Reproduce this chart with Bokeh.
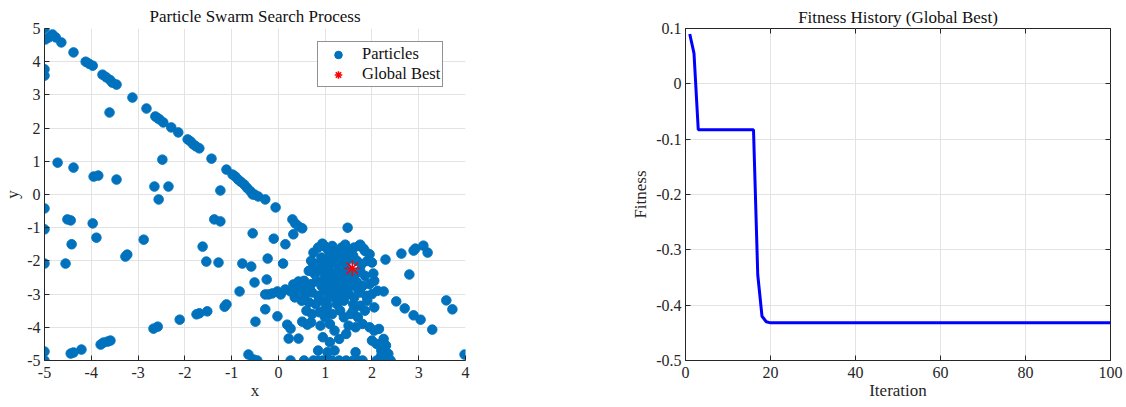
from bokeh.plotting import figure
from bokeh.layouts import row
from bokeh.models import FixedTicker, Legend, LegendItem, Range1d, LinearAxis
from bokeh.embed import file_html
from bokeh.resources import INLINE

FONT = "Liberation Serif"
AX = "#262626"
GRID = "#e3e3e3"
BLUE = "#0072BD"

# ---------------- data ----------------
particles_x = [
    -5, -4.98, -4.91, -4.83, -4.76, -4.64, -5, -5, -4.38, -4.12, -4.05, -3.97,
    -3.76, -3.68, -3.6, -3.55, -3.46, -3.61, -3.12, -2.82, -2.63, -2.58, -2.54,
    -2.46, -2.29, -2.14, -1.94, -1.88, -1.82, -1.76, -1.69, -1.43, -1.11, -0.98,
    -0.92, -0.86, -0.8, -0.73, -0.67, -0.6, -0.55, -0.51, -0.43, -0.28, -0.06,
    0.3, 0.36, 0.43, 0.51,
    -4.72, -4.38, -3.95, -3.85, -3.46, -2.48, -2.65, -2.35, -2.56, -1.24,
    -5, -4.51, -4.44, -3.97, -5, -3.89, -4.42, -2.88, -3.27, -3.23, -1.62, -1.37, -1.24,
    -5, -4.55, -1.54, -1.28,
    -2.67, -2.58, -2.11, -1.75, -1.69, -1.52,
    -3.8, -3.74, -3.65, -3.59, -4.44, -4.38, -4.21, -5, -5,
    -0.55, -0.1, 0.32, 0.15, -0.77, -0.58, -0.23, 0.1, -0.25, -0.51, -0.83, -1.11, -1.15,
    -0.28, -0.21, -0.13, -0.02, 0.05, 0.15, 0.26, 0.32, 0.43, 0.51, 0.58,
    -0.28, -0.02, -0.49, 0.19, 0.26, 0.22, 0.43, 0.51, 0.62,
    -0.64, -0.53, -0.45,
    0.26, 0.55, 0.75, 0.85, 0.95, 1.05, 1.15, 1.3, 1.45, 1.6, 1.7, 1.8, 2.1, 2.3, 2.4,
    2.29, 2.63, 2.89, 2.93, 3.1, 3.19, 2.8, 2.25, 2.52, 2.7, 2.89, 3.04, 3.29, 3.59,
    3.72, 3.98, 1.48, 2.03,
    0.94, 1.0, 1.43, 1.75, 1.82,
    0.75, 0.85, 0.95, 1.05, 1.15, 1.25, 1.35, 1.5, 1.62, 1.72, 1.85, 1.95,
    0.7, 0.8, 0.92, 1.02, 1.12, 1.22, 1.32, 1.42, 1.5, 1.68, 1.78, 1.9, 2.0,
    0.65, 0.78, 0.88, 0.98, 1.08, 1.18, 1.28, 1.38, 1.48, 1.65, 1.75, 1.85,
    0.55, 0.7, 0.82, 0.92, 1.02, 1.12, 1.22, 1.32, 1.45, 1.55, 1.68, 1.8, 1.95, 2.05,
    0.45, 0.58, 0.72, 0.85, 0.98, 1.1, 1.2, 1.35, 1.5, 1.62, 1.75, 1.88, 2.0, 2.12,
    0.35, 0.5, 0.65, 0.8, 0.95, 1.05, 1.25, 1.4, 1.6, 1.75, 1.9,
    0.6, 0.72, 0.88, 1.0, 1.15, 1.32, 1.55, 1.7, 1.85, 2.05,
    0.7, 0.9, 1.1, 1.2, 1.5, 1.65, 1.8, 1.95, 2.05, 2.15,
    0.95, 1.1, 1.3, 1.45, 2.0, 2.1, 2.25, 2.3,
    0.85, 1.05, 1.2, 1.65, 2.2, 2.35, 2.2, 2.3,
    1.1, 1.25, 1.4, 1.6, 1.3, 1.45, 1.2, 1.35, 1.55, 1.0, 1.15, 1.4,
    0.9, 1.3, 1.7, 1.6, 1.0, 1.4, 0.75, 1.25,
]
particles_y = [
    5, 4.67, 4.73, 4.82, 4.73, 4.58, 3.77, 3.58, 4.28, 4.0, 3.94, 3.88,
    3.61, 3.53, 3.45, 3.37, 3.31, 2.47, 2.92, 2.59, 2.35, 2.3, 2.26,
    2.17, 2.02, 1.87, 1.66, 1.6, 1.51, 1.45, 1.39, 1.08, 0.75, 0.6,
    0.54, 0.45, 0.38, 0.3, 0.2, 0.1, 0.0, 0.0, -0.06, -0.15, -0.39,
    -0.75, -0.87, -0.96, -1.02,
    0.96, 0.81, 0.54, 0.57, 0.45, 1.05, 0.24, 0.24, -0.15, 0.12,
    -0.42, -0.75, -0.78, -0.87, -1.05, -1.3, -1.5, -1.36, -1.87, -1.81, -1.57, -0.75, -0.81,
    -2.08, -2.08, -2.02, -2.05,
    -4.04, -3.98, -3.77, -3.61, -3.58, -3.52,
    -4.52, -4.46, -4.43, -4.4, -4.79, -4.76, -4.67, -4.73, -5,
    -1.17, -1.33, -1.2, -1.5, -2.08, -2.17, -1.93, -2.08, -2.56, -2.65, -2.92, -3.31, -3.38,
    -3.01, -3.01, -2.98, -2.92, -3.01, -2.86, -2.92, -2.71, -2.62, -2.71, -2.83,
    -3.46, -3.67, -3.83, -3.92, -4.04, -4.34, -4.34, -3.83, -3.92,
    -4.82, -4.97, -5,
    -5, -5, -5, -5, -5, -5, -5, -5, -5, -5, -5, -5, -5, -5, -5,
    -1.96, -1.78, -1.69, -1.63, -1.54, -1.75, -2.41, -2.92, -3.22, -3.43, -3.64, -3.77, -4.07, -3.19,
    -3.46, -4.82, -1.0, -2.38,
    -1.48, -1.57, -1.51, -1.51, -1.63,
    -1.75, -1.6, -1.5, -1.65, -1.55, -1.7, -1.6, -1.75, -1.6, -1.55, -1.7, -1.8,
    -2.0, -2.1, -1.9, -2.0, -1.85, -2.05, -1.95, -2.1, -1.95, -2.0, -2.1, -2.0, -2.05,
    -2.3, -2.4, -2.25, -2.35, -2.2, -2.4, -2.3, -2.45, -2.3, -2.4, -2.3, -2.45,
    -2.6, -2.7, -2.6, -2.75, -2.6, -2.7, -2.6, -2.8, -2.65, -2.75, -2.65, -2.75, -2.7, -2.6,
    -2.9, -3.0, -2.95, -3.05, -2.9, -3.1, -2.95, -3.05, -3.0, -3.1, -2.95, -3.05, -3.0, -2.9,
    -3.1, -3.2, -3.25, -3.3, -3.2, -3.35, -3.3, -3.2, -3.3, -3.35, -3.2,
    -3.5, -3.6, -3.55, -3.7, -3.6, -3.5, -3.6, -3.7, -3.5, -3.4,
    -3.85, -3.95, -3.9, -4.1, -3.95, -4.0, -3.9, -4.0, -4.1, -4.05,
    -4.3, -4.45, -4.35, -4.2, -4.4, -4.5, -4.35, -4.55,
    -4.7, -4.75, -4.7, -4.75, -4.7, -4.8, -4.85, -4.95,
    -1.78, -1.82, -1.88, -1.85, -2.15, -2.2, -2.5, -2.52, -2.5, -2.48, -2.85, -2.8,
    -2.2, -2.65, -2.85, -3.5, -3.45, -3.7, -2.15, -3.15,
]
best_x = [1.58]
best_y = [-2.22]

iterations = list(range(1, 101))
fitness = [0.09, 0.055] + [-0.083] * 14 + [-0.345, -0.42, -0.43] + [-0.432] * 81

x1_ticks = [-5, -4, -3, -2, -1, 0, 1, 2, 3, 4]
y1_ticks = [-5, -4, -3, -2, -1, 0, 1, 2, 3, 4, 5]
x2_ticks = [0, 20, 40, 60, 80, 100]
y2_ticks = [-0.5, -0.4, -0.3, -0.2, -0.1, 0, 0.1]
y2_labels = ["-0.5", "-0.4", "-0.3", "-0.2", "-0.1", "0", "0.1"]


def style_axis(ax):
    ax.axis_line_color = AX
    ax.major_tick_line_color = AX
    ax.minor_tick_line_color = None
    ax.major_tick_in = 5
    ax.major_tick_out = 0
    ax.major_label_text_font = FONT
    ax.major_label_text_font_size = "16px"
    ax.major_label_text_color = AX
    ax.axis_label_text_font = FONT
    ax.axis_label_text_font_size = "17px"
    ax.axis_label_text_font_style = "normal"
    ax.axis_label_text_color = AX


def style(p):
    p.title.text_font = FONT
    p.title.text_font_size = "17px"
    p.title.text_font_style = "normal"
    p.title.text_color = "#111111"
    p.title.align = "center"
    style_axis(p.xaxis[0])
    style_axis(p.yaxis[0])
    p.grid.grid_line_color = GRID
    p.background_fill_color = "white"
    p.border_fill_color = "white"


# ---------------- left: particles ----------------
p1 = figure(width=560, height=407, x_range=Range1d(-5, 4), y_range=Range1d(-5, 5),
            output_backend="svg", toolbar_location=None,
            title="Particle Swarm Search Process",
            min_border_left=44, min_border_right=95, min_border_top=27, min_border_bottom=47)
style(p1)
p1.title.standoff = 5
p1.outline_line_color = None
p1.xaxis.ticker = FixedTicker(ticks=x1_ticks)
p1.yaxis.ticker = FixedTicker(ticks=y1_ticks)
p1.xaxis.major_label_overrides = {t: str(t) for t in x1_ticks}
p1.yaxis.major_label_overrides = {t: str(t) for t in y1_ticks}
p1.xaxis.axis_label = "x"
p1.yaxis.axis_label = "y"
p1.xaxis.major_label_standoff = 6
p1.xaxis.axis_label_standoff = 0
p1.yaxis.axis_label_standoff = 2
p1.yaxis.major_label_standoff = 4

r_p = p1.scatter(particles_x, particles_y, marker="circle", size=9.5,
                 fill_color=BLUE, line_color=BLUE)
r_b = p1.scatter(best_x, best_y, marker="asterisk", size=16,
                 line_color="red", line_width=1.5)

legend = Legend(items=[LegendItem(label="Particles", renderers=[r_p]),
                       LegendItem(label="Global Best", renderers=[r_b])],
                location=(273, 273))
legend.label_text_font = FONT
legend.label_text_font_size = "16.5px"
legend.label_text_color = "#111111"
legend.border_line_color = AX
legend.border_line_width = 1
legend.margin = 0
legend.padding = 2
legend.spacing = 0
legend.label_height = 19
legend.glyph_height = 19
legend.glyph_width = 36
legend.label_standoff = 6
legend.background_fill_alpha = 1
p1.add_layout(legend)

# ---------------- right: fitness ----------------
p2 = figure(width=566, height=407, x_range=Range1d(0, 100), y_range=Range1d(-0.5, 0.1),
            output_backend="svg", toolbar_location=None,
            title="Fitness History (Global Best)",
            min_border_left=125, min_border_right=16, min_border_top=28, min_border_bottom=47)
style(p2)
p2.title.standoff = 4
p2.outline_line_color = AX
p2.xaxis.ticker = FixedTicker(ticks=x2_ticks)
p2.yaxis.ticker = FixedTicker(ticks=y2_ticks)
p2.xaxis.major_label_overrides = {t: str(t) for t in x2_ticks}
p2.yaxis.major_label_overrides = dict(zip(y2_ticks, y2_labels))
p2.xaxis.axis_label = "Iteration"
p2.yaxis.axis_label = "Fitness"
p2.xaxis.major_label_standoff = 6
p2.xaxis.axis_label_standoff = 0
p2.yaxis.axis_label_standoff = 3
p2.yaxis.major_label_standoff = 4

# mirrored tick marks (box on)
top_ax = LinearAxis(ticker=FixedTicker(ticks=x2_ticks))
right_ax = LinearAxis(ticker=FixedTicker(ticks=y2_ticks))
for ax, ticks in ((top_ax, x2_ticks), (right_ax, y2_ticks)):
    ax.axis_line_color = None
    ax.major_tick_line_color = AX
    ax.minor_tick_line_color = None
    ax.major_tick_in = 5
    ax.major_tick_out = 0
    ax.major_label_standoff = 0
    ax.major_label_text_font_size = "1px"
    ax.major_label_overrides = {t: "" for t in ticks}
p2.add_layout(top_ax, "above")
p2.add_layout(right_ax, "right")

p2.line(iterations, fitness, line_color="#0000FF", line_width=3)

layout = row(p1, p2)
open("out.html", "w").write(file_html(layout, INLINE))
